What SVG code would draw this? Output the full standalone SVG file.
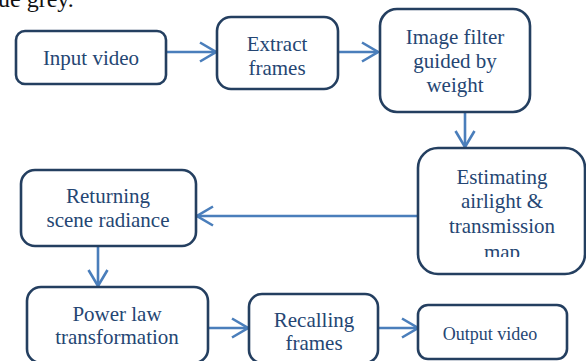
<svg xmlns="http://www.w3.org/2000/svg" width="586" height="361" viewBox="0 0 586 361">
<defs>
<style>
.box{fill:#fff;stroke:#243f60;stroke-width:2.6}
.lbl{font-family:"Liberation Serif","Times New Roman",serif;font-size:21px;fill:#254673;text-anchor:middle}
.small{font-size:18px}
.c{fill:none;stroke:#4a7ebb;stroke-width:2.6}
</style>
<marker id="ah" viewBox="0 0 18 22" refX="17" refY="11" markerWidth="18" markerHeight="22" markerUnits="userSpaceOnUse" orient="auto">
<path d="M1,1.5 L17,11 L1,20.5" fill="none" stroke="#4a7ebb" stroke-width="2.6"/>
</marker>
<clipPath id="clipE"><rect x="418" y="148" width="168" height="109"/></clipPath>
</defs>
<rect width="586" height="361" fill="#fff"/>
<text x="-2" y="7" font-family="Liberation Serif,serif" font-size="24" fill="#111">ue grey.</text>
<g id="connectors">
<line class="c" x1="166" y1="52" x2="216" y2="52" marker-end="url(#ah)"/>
<line class="c" x1="338" y1="52" x2="378" y2="52" marker-end="url(#ah)"/>
<line class="c" x1="465" y1="112" x2="465" y2="147" marker-end="url(#ah)"/>
<line class="c" x1="418" y1="216" x2="197" y2="216" marker-end="url(#ah)"/>
<line class="c" x1="98" y1="246" x2="98" y2="286" marker-end="url(#ah)"/>
<line class="c" x1="208" y1="328" x2="248" y2="328" marker-end="url(#ah)"/>
<line class="c" x1="378" y1="328" x2="418" y2="328" marker-end="url(#ah)"/>
</g>
<g id="input-video">
<rect class="box" x="16" y="31" width="150" height="53" rx="9"/>
<text class="lbl" x="91" y="65">Input video</text>
</g>
<g id="extract-frames">
<rect class="box" x="217" y="17" width="121" height="72" rx="14"/>
<text class="lbl" x="277" y="51">Extract</text>
<text class="lbl" x="277" y="75">frames</text>
</g>
<g id="image-filter">
<rect class="box" x="380" y="9" width="150" height="103" rx="17"/>
<text class="lbl" x="455" y="44">Image filter</text>
<text class="lbl" x="455" y="68">guided by</text>
<text class="lbl" x="455" y="92">weight</text>
</g>
<g id="estimating">
<rect class="box" x="418" y="148" width="167" height="126" rx="20"/>
<text class="lbl" x="502" y="184">Estimating</text>
<text class="lbl" x="502" y="208">airlight &amp;</text>
<text class="lbl" x="502" y="233">transmission</text>
<text class="lbl" x="502" y="259" clip-path="url(#clipE)">map</text>
</g>
<g id="returning">
<rect class="box" x="21" y="170" width="175" height="76" rx="14"/>
<text class="lbl" x="108" y="203">Returning</text>
<text class="lbl" x="108" y="227">scene radiance</text>
</g>
<g id="power-law">
<rect class="box" x="27" y="287" width="181" height="76" rx="14"/>
<text class="lbl" x="117" y="321">Power law</text>
<text class="lbl" x="117" y="344">transformation</text>
</g>
<g id="recalling">
<rect class="box" x="249" y="294" width="129" height="69" rx="13"/>
<text class="lbl" x="314" y="327">Recalling</text>
<text class="lbl" x="314" y="350">frames</text>
</g>
<g id="output-video">
<rect class="box" x="418" y="305" width="149" height="54" rx="10"/>
<text class="lbl small" x="490" y="340">Output video</text>
</g>
</svg>
